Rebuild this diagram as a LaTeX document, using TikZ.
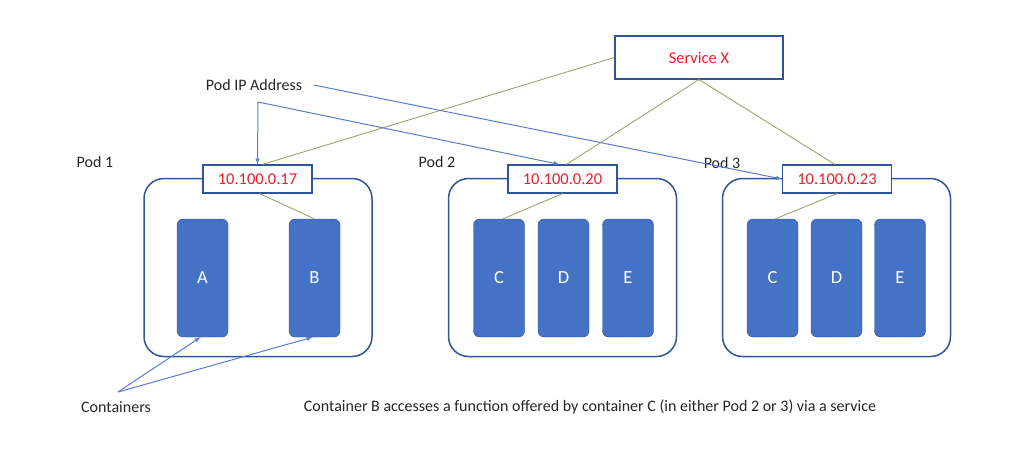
\documentclass[tikz,border=0pt]{standalone}
\usepackage{fontspec}
\setmainfont{Carlito}
\usepackage{xcolor}
\usepackage{tikz}
\usetikzlibrary{calc}
\definecolor{podblue}{HTML}{2F5597}
\definecolor{ctrfill}{HTML}{4472C4}
\definecolor{ctrline}{HTML}{2F528F}
\definecolor{ipred}{HTML}{E8202A}
\definecolor{linkolive}{HTML}{A0A46C}
\definecolor{arrowblue}{HTML}{5A7BD0}

\begin{document}
\begin{tikzpicture}[x=1pt,y=-1pt,
        pod/.style={draw=podblue,line width=1.5pt,rounded corners=20pt,minimum width=228pt,minimum height=178pt,inner sep=0pt},
        ipbox/.style={draw=podblue,line width=1.2pt,fill=white,minimum width=109pt,minimum height=28pt,inner sep=0pt,text=ipred,font=\fontsize{16.5}{19}\selectfont},
        ctr/.style={draw=ctrline,fill=ctrfill,rounded corners=6pt,minimum width=51pt,minimum height=118pt,inner sep=0pt,text=white,font=\fontsize{18.5}{21}\selectfont},
        link/.style={draw=linkolive,line width=0.9pt},
        pointer/.style={draw=arrowblue,line width=1pt,-latex},
        lbl/.style={font=\fontsize{16}{19}\selectfont,text=black!85}]
            \useasboundingbox (0,0) rectangle (1014,464);

            \node[pod] (pod1) at (258,267.5) {};
            \node[pod] (pod2) at (562.5,267.5) {};
            \node[pod] (pod3) at (836.5,267.5) {};

            \node[ipbox] (ip1) at (257.5,179) {10.100.0.17};
            \node[ipbox] (ip2) at (562.5,179) {10.100.0.20};
            \node[ipbox] (ip3) at (837,179) {10.100.0.23};

            \node[ctr] (a1) at (202.5,278) {A};
            \node[ctr] (b1) at (314.5,278) {B};
            \node[ctr] (c2) at (499,278) {C};
            \node[ctr] (d2) at (563.5,278) {D};
            \node[ctr] (e2) at (628,278) {E};
            \node[ctr] (c3) at (772.5,278) {C};
            \node[ctr] (d3) at (836.5,278) {D};
            \node[ctr] (e3) at (900,278) {E};

            \node[draw=podblue,line width=1.2pt,minimum width=168pt,minimum height=43pt,inner sep=0pt,text=ipred,font=\fontsize{16.5}{19}\selectfont] (svc) at (699,57.5) {Service X};

            \node[lbl] (p1) at (95,162) {Pod 1};
            \node[lbl] (p2) at (437,162) {Pod 2};
            \node[lbl] (p3) at (722,163) {Pod 3};
            \node[lbl] (podip) at (254,85) {Pod IP Address};
            \node[lbl] (cont) at (116,407) {Containers};
            \node[lbl] (note) at (590,407) {Container B accesses a function offered by container C (in either Pod 2 or 3) via a service};

            \draw[link] (svc.west) -- ([xshift=5pt]ip1.north);
            \draw[link] (svc.south) -- ([xshift=4pt]ip2.north);
            \draw[link] (svc.south) -- ([xshift=-2pt]ip3.north);
            \draw[link] ([xshift=2pt]ip1.south) -- (b1.north);
            \draw[link] (ip2.south) -- ([xshift=4pt]c2.north);
            \draw[link] (ip3.south) -- ([xshift=3pt]c3.north);

            \coordinate (fork) at (258,102);
            \coordinate (contsrc) at (118,392);
            \draw[pointer] (fork) -- (ip1.north);
            \draw[pointer] (fork) -- ([xshift=-3pt]ip2.north);
            \draw[pointer] ([xshift=8pt]podip.east) -- (ip3.west);
            \draw[pointer] (contsrc) -- ([xshift=-2pt]a1.south);
            \draw[pointer] (contsrc) -- ([xshift=-2pt]b1.south);
        \end{tikzpicture}
\end{document}
